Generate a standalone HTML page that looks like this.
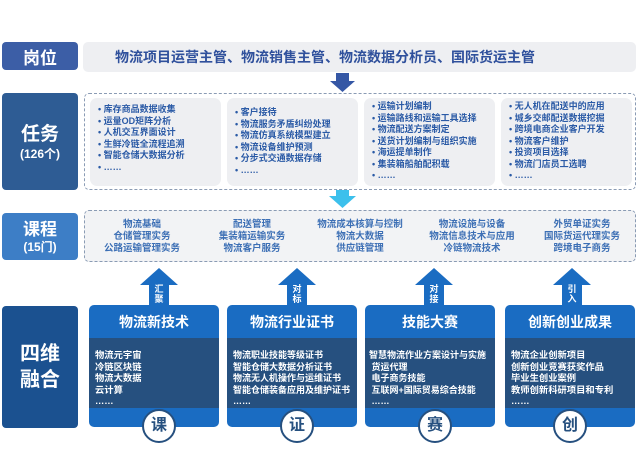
<!DOCTYPE html>
<html><head><meta charset="utf-8"><style>
*{margin:0;padding:0;box-sizing:border-box}
body{width:638px;height:466px;background:#fff;font-family:"Liberation Sans","Noto Sans CJK SC",sans-serif;position:relative;overflow:hidden;font-weight:bold}
.a{position:absolute}
.lab{position:absolute;left:2px;width:76px;color:#fff;text-align:center;border-radius:4px;display:flex;flex-direction:column;justify-content:center;align-items:center}
.card{position:absolute;background:#eeeff2;border-radius:7px;top:98px;height:88px;padding:6px 0 0 8px;font-size:9px;line-height:11.5px;color:#2a5aa6}
.crs{position:absolute;top:219px;text-align:center;font-size:9.5px;line-height:12px;color:#3c6fb5;width:120px}
.bc{position:absolute;top:305px;height:122px;width:130px;background:#1a6cc2;border-radius:5px}
.bc .h{height:33px;line-height:35px;text-align:center;color:#fff;font-size:14px}
.bc .b{height:70px;background:#26507f;color:#fff;font-size:9.3px;line-height:11.5px;padding:12px 0 0 6px;white-space:nowrap}
.circ{position:absolute;width:34px;height:34px;border-radius:50%;background:#fff;border:2px solid #26507f;top:409px;color:#26507f;font-size:16px;text-align:center;line-height:30px}
</style></head><body>
<div class="lab" style="top:42px;height:28px;background:#3c5ea6;font-size:17px">岗位</div>
<div class="a" style="left:83px;top:42px;width:553px;height:30px;background:#eeeff2;border-radius:5px;color:#2f509c;font-size:14px;line-height:30px;padding-left:32px">物流项目运营主管、物流销售主管、物流数据分析员、国际货运主管</div>
<svg class="a" style="left:0;top:0" width="638" height="466">
<polygon points="336,73 349,73 349,81 355,81 342.5,92 330,81 336,81" fill="#3557a5"/>
<polygon points="336,190 349,190 349,196 356,196 342.5,208 329,196 336,196" fill="#3cc0ec"/>
<g fill="#1a6cc2">
<polygon points="149,305 169,305 169,285 178,285 159,268 140,285 149,285"/>
<polygon points="287,305 307,305 307,285 316,285 297,268 278,285 287,285"/>
<polygon points="424,305 444,305 444,285 453,285 434,268 415,285 424,285"/>
<polygon points="562,305 582,305 582,285 591,285 572,268 553,285 562,285"/>
</g>
<g fill="#fff" font-size="9" text-anchor="middle" font-weight="bold" font-family="Liberation Sans,Noto Sans CJK SC,sans-serif">
<text x="159" y="292">汇</text><text x="159" y="302">聚</text>
<text x="297" y="292">对</text><text x="297" y="302">标</text>
<text x="434" y="292">对</text><text x="434" y="302">接</text>
<text x="572" y="292">引</text><text x="572" y="302">入</text>
</g>
</svg>
<div class="lab" style="top:93px;height:97px;background:#2e5c94;font-size:19px;line-height:24px">任务<span style="font-size:12px;line-height:14px">(126个)</span></div>
<div class="a" style="left:84px;top:93px;width:552px;height:97px;border:1px dashed #8a9bb4;border-radius:5px"></div>
<div class="card" style="left:90px;width:131px">• 库存商品数据收集<br>• 运量OD矩阵分析<br>• 人机交互界面设计<br>• 生鲜冷链全流程追溯<br>• 智能仓储大数据分析<br>• ……</div>
<div class="card" style="left:227px;width:131px;padding-top:9px">• 客户接待<br>• 物流服务矛盾纠纷处理<br>• 物流仿真系统模型建立<br>• 物流设备维护预测<br>• 分步式交通数据存储<br>• ……</div>
<div class="card" style="left:364px;width:131px;padding-top:3px">• 运输计划编制<br>• 运输路线和运输工具选择<br>• 物流配送方案制定<br>• 送货计划编制与组织实施<br>• 海运提单制作<br>• 集装箱船舶配积载<br>• ……</div>
<div class="card" style="left:501px;width:131px;padding-top:3px">• 无人机在配送中的应用<br>• 城乡交邮配送数据挖掘<br>• 跨境电商企业客户开发<br>• 物流客户维护<br>• 投资项目选择<br>• 物流门店员工选聘<br>• ……</div>
<div class="lab" style="top:213px;height:47px;background:#3d7ec6;font-size:17px;line-height:21px">课程<span style="font-size:12px;line-height:14px">(15门)</span></div>
<div class="a" style="left:84px;top:210px;width:552px;height:52px;border:1px dashed #8a9bb4;border-radius:5px;background:#f2f3f5"></div>
<div class="crs" style="left:82px">物流基础<br>仓储管理实务<br>公路运输管理实务</div>
<div class="crs" style="left:192px">配送管理<br>集装箱运输实务<br>物流客户服务</div>
<div class="crs" style="left:300px">物流成本核算与控制<br>物流大数据<br>供应链管理</div>
<div class="crs" style="left:412px">物流设施与设备<br>物流信息技术与应用<br>冷链物流技术</div>
<div class="crs" style="left:522px">外贸单证实务<br>国际货运代理实务<br>跨境电子商务</div>
<div class="lab" style="top:306px;height:122px;background:#1b5190;font-size:20px;line-height:26px">四维<br>融合</div>
<div class="bc" style="left:89px"><div class="h">物流新技术</div><div class="b">物流元宇宙<br>冷链区块链<br>物流大数据<br>云计算<br>……</div></div>
<div class="bc" style="left:227px"><div class="h">物流行业证书</div><div class="b" style="padding-left:6px;font-size:9px">物流职业技能等级证书<br>智能仓储大数据分析证书<br>物流无人机操作与运维证书<br>智能仓储装备应用及维护证书<br>……</div></div>
<div class="bc" style="left:365px"><div class="h">技能大赛</div><div class="b" style="padding-left:4px;font-size:9px">智慧物流作业方案设计与实施<br>&nbsp;货运代理<br>&nbsp;电子商务技能<br>&nbsp;互联网+国际贸易综合技能<br>&nbsp;……</div></div>
<div class="bc" style="left:505px"><div class="h">创新创业成果</div><div class="b">物流企业创新项目<br>创新创业竞赛获奖作品<br>毕业生创业案例<br>教师创新科研项目和专利<br>……</div></div>
<div class="circ" style="left:142px">课</div>
<div class="circ" style="left:280px">证</div>
<div class="circ" style="left:418px">赛</div>
<div class="circ" style="left:553px">创</div>
</body></html>
